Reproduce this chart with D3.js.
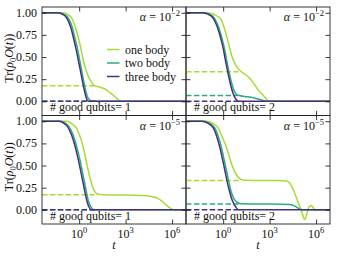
<!DOCTYPE html>
<html>
<head>
<meta charset="utf-8">
<script src="https://cdn.jsdelivr.net/npm/d3@7"></script>
<style>
body{margin:0;background:#fff;}
svg{display:block;}
</style>
</head>
<body>
<svg></svg>
<script>
// curves, points are [log10 t, Tr(rho0 O(t))]
var oneA = [[-2.4,1],[-1.1,1],[-0.8,0.985],[-0.47,0.94],[-0.25,0.84],[-0.04,0.71],[0.13,0.58],[0.28,0.45],[0.45,0.35],[0.6,0.28],[0.78,0.22],[0.93,0.185],[1.1,0.17],[1.36,0.16],[1.6,0.145],[1.8,0.125],[2.05,0.09],[2.23,0.065],[2.45,0.03],[2.66,0.005],[2.88,0],[6.9,0]];
var twoA = [[-2.4,1],[-1.4,1],[-1.0,0.985],[-0.7,0.94],[-0.45,0.84],[-0.27,0.71],[-0.1,0.59],[0.05,0.45],[0.18,0.33],[0.3,0.22],[0.42,0.12],[0.53,0.055],[0.65,0.02],[0.83,0],[6.9,0]];
var threeA = [[-2.4,1],[-1.45,1],[-1.1,0.985],[-0.8,0.94],[-0.55,0.84],[-0.36,0.71],[-0.2,0.59],[-0.04,0.45],[0.1,0.33],[0.22,0.22],[0.34,0.12],[0.44,0.05],[0.52,0.015],[0.6,0],[6.9,0]];

var oneB = [[-2.4,1],[-1.0,1],[-0.6,0.98],[-0.15,0.93],[0.05,0.84],[0.28,0.70],[0.45,0.58],[0.6,0.49],[0.78,0.42],[0.92,0.38],[1.1,0.345],[1.24,0.325],[1.45,0.3],[1.67,0.27],[1.9,0.22],[2.1,0.17],[2.3,0.12],[2.53,0.08],[2.75,0.035],[2.95,0],[6.9,0]];
var twoB = [[-2.4,1],[-1.3,1],[-0.9,0.985],[-0.57,0.94],[-0.32,0.85],[-0.09,0.72],[0.08,0.6],[0.23,0.46],[0.38,0.33],[0.53,0.22],[0.68,0.13],[0.85,0.08],[1.05,0.065],[1.4,0.055],[1.8,0.045],[2.2,0.03],[2.55,0.012],[2.85,0],[6.9,0]];
var threeB = [[-2.4,1],[-1.4,1],[-1.0,0.985],[-0.65,0.94],[-0.4,0.85],[-0.17,0.72],[0.0,0.6],[0.15,0.46],[0.3,0.33],[0.45,0.21],[0.6,0.11],[0.75,0.045],[0.88,0.012],[1.0,0],[6.9,0]];

var oneC = [[-2.4,1],[-0.8,1],[-0.5,0.975],[-0.17,0.92],[0.05,0.83],[0.26,0.71],[0.42,0.58],[0.58,0.45],[0.75,0.33],[0.91,0.24],[1.05,0.195],[1.2,0.178],[1.5,0.17],[2.5,0.168],[3.5,0.166],[4.0,0.163],[4.4,0.158],[4.75,0.148],[5.03,0.135],[5.25,0.11],[5.45,0.085],[5.65,0.05],[5.89,0.018],[6.1,0],[6.9,0]];
var twoC = [[-2.4,1],[-1.2,1],[-0.9,0.98],[-0.65,0.94],[-0.4,0.85],[-0.2,0.74],[0.0,0.6],[0.15,0.48],[0.3,0.35],[0.45,0.22],[0.6,0.1],[0.75,0.035],[0.95,0],[6.9,0]];
var threeC = [[-2.4,1],[-1.3,1],[-1.0,0.98],[-0.75,0.94],[-0.5,0.85],[-0.3,0.74],[-0.1,0.6],[0.05,0.48],[0.2,0.35],[0.35,0.22],[0.5,0.1],[0.63,0.035],[0.8,0],[6.9,0]];

var oneD = [[-2.4,1],[-1.04,1],[-0.7,0.98],[-0.3,0.92],[-0.03,0.81],[0.24,0.69],[0.4,0.6],[0.56,0.51],[0.72,0.44],[0.88,0.39],[1.05,0.355],[1.2,0.34],[1.5,0.333],[2.5,0.332],[3.5,0.33],[4.08,0.325],[4.3,0.3],[4.5,0.24],[4.67,0.165],[4.83,0.09],[4.95,0.035],[5.05,0],[5.16,-0.07],[5.26,-0.11],[5.37,-0.07],[5.47,0],[5.58,0.04],[5.69,0.05],[5.8,0.03],[5.9,0],[6.0,-0.005],[6.1,0],[6.9,0]];
var twoD = [[-2.4,1],[-1.27,1],[-0.9,0.98],[-0.52,0.92],[-0.3,0.82],[-0.09,0.69],[0.07,0.56],[0.23,0.43],[0.37,0.31],[0.51,0.21],[0.65,0.14],[0.8,0.1],[0.95,0.08],[1.2,0.068],[2,0.066],[3,0.065],[3.8,0.064],[4.3,0.06],[4.6,0.045],[4.85,0.02],[5.05,0],[6.9,0]];
var threeD = [[-2.4,1],[-1.37,1],[-1.0,0.98],[-0.62,0.92],[-0.4,0.82],[-0.19,0.69],[-0.03,0.56],[0.13,0.43],[0.27,0.31],[0.41,0.21],[0.55,0.125],[0.67,0.075],[0.82,0.03],[0.99,0],[6.9,0]];

// dashed plateau levels (one, two, three body), drawn up to t = 10
var plateauA = [0.175, 0, 0];
var plateauB = [0.335, 0.065, 0];
var plateauC = [0.17, 0, 0];
var plateauD = [0.332, 0.065, 0];
var plateauEnd = 1;

var alphaExp = ['\u22122', '\u22122', '\u22125', '\u22125'];
var goodQubits = [1, 2, 1, 2];
var seriesNames = ['one body', 'two body', 'three body'];
var xTickExp = [0, 3, 6];
var yTicks = [0, 0.25, 0.5, 0.75, 1];

var colors = ['#a8db34', '#28ae80', '#46307e'];
var panels = [
  {curves: [oneA, twoA, threeA], plateau: plateauA, col: 0, row: 0},
  {curves: [oneB, twoB, threeB], plateau: plateauB, col: 1, row: 0},
  {curves: [oneC, twoC, threeC], plateau: plateauC, col: 0, row: 1},
  {curves: [oneD, twoD, threeD], plateau: plateauD, col: 1, row: 1}
];

var W = 338, H = 260;
var left = 42, top0 = 7, pw = 144, ph = 108.5;
var spine = '#222';
var font = "'Times New Roman', Times, 'Liberation Serif', serif";

var svg = d3.select('svg').attr('width', W).attr('height', H)
  .style('font-family', font);

var x = d3.scaleLog().domain([Math.pow(10, -2.4), Math.pow(10, 6.9)]).range([0, pw]);
var y = d3.scaleLinear().domain([-0.16, 1.065]).range([ph, 0]);
var line = d3.line()
  .x(d => x(Math.pow(10, d[0])))
  .y(d => y(d[1]))
  .curve(d3.curveMonotoneX);

function txt(sel) {
  return sel.style('font-family', font).attr('font-size', '12px').attr('fill', '#111');
}

panels.forEach(function(p, i){
  var g = svg.append('g')
    .attr('transform', 'translate(' + (left + p.col*pw) + ',' + (top0 + p.row*ph) + ')');

  // dashed plateaus
  p.plateau.forEach(function(v, k){
    g.append('path')
      .attr('d', line([[-2.4, v], [plateauEnd, v]]))
      .attr('fill', 'none')
      .attr('stroke', colors[k])
      .attr('stroke-width', 1.5)
      .attr('stroke-dasharray', '5.5,2.4');
  });

  p.curves.forEach(function(c, k){
    g.append('path')
      .attr('d', line(c))
      .attr('fill', 'none')
      .attr('stroke', colors[k])
      .attr('stroke-width', 1.5);
  });

  // ticks on all four sides, pointing inward
  var xt = xTickExp.map(e => Math.pow(10, e));
  g.append('g').attr('transform', 'translate(0,' + ph + ')')
    .call(d3.axisBottom(x).tickValues(xt).tickFormat('').tickSize(-4.5).tickSizeOuter(0));
  g.append('g')
    .call(d3.axisTop(x).tickValues(xt).tickFormat('').tickSize(-4.5).tickSizeOuter(0));
  g.append('g')
    .call(d3.axisLeft(y).tickValues(yTicks).tickFormat('').tickSize(-4.5).tickSizeOuter(0));
  g.append('g').attr('transform', 'translate(' + pw + ',0)')
    .call(d3.axisRight(y).tickValues(yTicks).tickFormat('').tickSize(-4.5).tickSizeOuter(0));
  g.selectAll('.domain').remove();
  g.selectAll('.tick line').attr('stroke', spine).attr('stroke-width', 0.9);

  g.append('rect')
    .attr('width', pw).attr('height', ph)
    .attr('fill', 'none').attr('stroke', spine).attr('stroke-width', 0.9);

  // y tick labels on the left column
  if (p.col == 0) {
    g.selectAll('.ylab').data(yTicks).enter().append('text')
      .call(txt)
      .attr('x', -5)
      .attr('y', d => y(d) + 4)
      .attr('text-anchor', 'end')
      .text(d => d.toFixed(2));
  }

  // x tick labels and axis title on the bottom row
  if (p.row == 1) {
    var lab = g.selectAll('.xlab').data(xTickExp).enter().append('text')
      .call(txt)
      .attr('x', d => x(Math.pow(10, d)))
      .attr('y', ph + 14)
      .attr('text-anchor', 'middle');
    lab.append('tspan').text('10');
    lab.append('tspan').attr('dy', -5).attr('font-size', '8.5px').text(d => d);
    g.append('text')
      .call(txt)
      .attr('x', pw/2).attr('y', ph + 24.5)
      .attr('text-anchor', 'middle')
      .attr('font-style', 'italic')
      .text('t');
  }

  // y axis title
  if (p.col == 0) {
    var yl = g.append('text')
      .call(txt)
      .attr('transform', 'translate(-29,' + (ph/2 - 3) + ') rotate(-90)')
      .attr('text-anchor', 'middle');
    yl.append('tspan').text('Tr(');
    yl.append('tspan').attr('font-style', 'italic').text('\u03c1');
    yl.append('tspan').attr('font-size', '8.5px').attr('dy', 2.5).text('0');
    yl.append('tspan').attr('font-style', 'italic').attr('dy', -2.5).text('O');
    yl.append('tspan').text('(');
    yl.append('tspan').attr('font-style', 'italic').text('t');
    yl.append('tspan').text('))');
  }

  // alpha annotation
  var al = g.append('text')
    .call(txt)
    .attr('x', pw - 6).attr('y', 14)
    .attr('text-anchor', 'end');
  al.append('tspan').attr('font-style', 'italic').text('\u03b1');
  al.append('tspan').text(' = 10');
  al.append('tspan').attr('dy', -5).attr('font-size', '8.5px').text(alphaExp[i]);

  g.append('text')
    .call(txt)
    .attr('x', 8).attr('y', ph - 4.5)
    .text('# good qubits= ' + goodQubits[i]);

  // legend only in the first panel
  if (i == 0) {
    seriesNames.forEach(function(n, k){
      var ly = 42.5 + k*13.5;
      g.append('line')
        .attr('x1', 65).attr('x2', 77.5)
        .attr('y1', ly).attr('y2', ly)
        .attr('stroke', colors[k]).attr('stroke-width', 1.5);
      g.append('text')
        .call(txt)
        .attr('x', 83).attr('y', ly + 4)
        .text(n);
    });
  }
});
</script>
</body>
</html>
